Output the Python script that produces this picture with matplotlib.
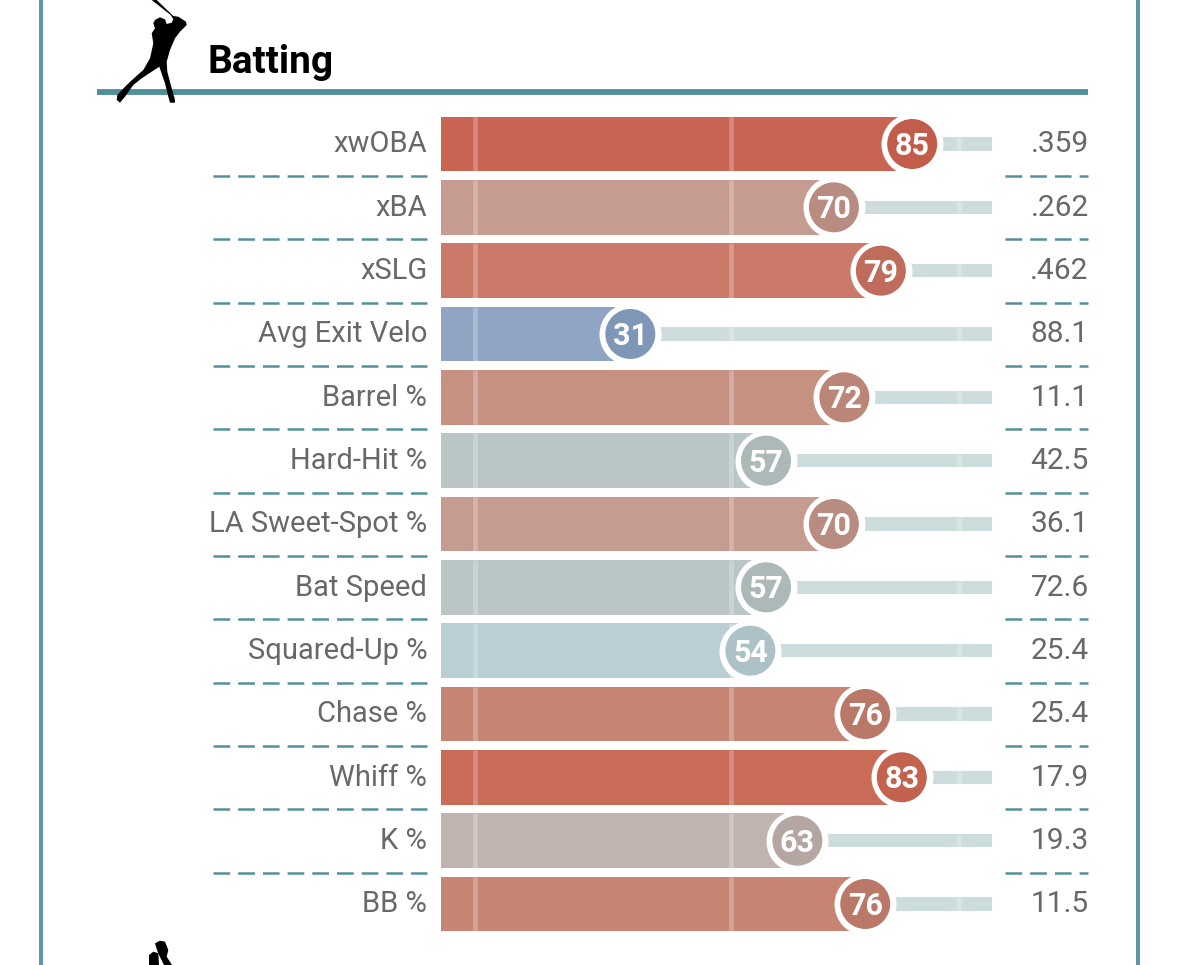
""" Horizontal percentile bars for the batting section of a player card. """

import matplotlib
matplotlib.use('Agg')
import matplotlib.pyplot as plt
from matplotlib.patches import Polygon

plt.rcParams['font.family'] = ['Roboto', 'DejaVu Sans']

WIDTH, HEIGHT = 1179, 965

metrics = ['xwOBA', 'xBA', 'xSLG', 'Avg Exit Velo', 'Barrel %', 'Hard-Hit %',
           'LA Sweet-Spot %', 'Bat Speed', 'Squared-Up %', 'Chase %', 'Whiff %',
           'K %', 'BB %']
percentiles = [85, 70, 79, 31, 72, 57, 70, 57, 54, 76, 83, 63, 76]
stat_values = ['.359', '.262', '.462', '88.1', '11.1', '42.5', '36.1', '72.6',
               '25.4', '25.4', '17.9', '19.3', '11.5']
bar_colors = ['#c96352', '#c69c90', '#cb7968', '#90a5c4', '#c79182', '#bac6c6',
              '#c69c90', '#bac6c6', '#bacfd3', '#c78473', '#c96b57', '#c1b3ae',
              '#c78473']
dot_colors = ['#c25c4b', '#b98c82', '#c06c5c', '#7f97b7', '#bb8577', '#adb9b9',
              '#b98c82', '#adb9b9', '#acc2c6', '#ba7868', '#c2624f', '#b5a6a1',
              '#ba7868']
guide_ticks = [1.15, 50.2, 94]

BAR_START = -5.27
TRACK_END = 100.3
TEAL = '#53929a'
FRAME = '#5f97a5'
GREY = '#686868'

# Batter silhouette and the top of the next section's icon, in pixels
BATTER = [(151.7, 0), (156.7, 0), (173.3, 16), (178.3, 16.7), (186, 21.7), (186.7, 25),
          (180, 31.7), (175, 38.3), (170, 50), (166.7, 61.7), (167.3, 71.7),
          (171.7, 88.3), (175, 100), (175, 102.7), (170, 102.7), (168.3, 96.7),
          (165, 83.3), (159.3, 66.7), (151.7, 71.7), (141.7, 78.3), (133.3, 85),
          (125, 96.7), (120, 102.7), (116.7, 100), (117.3, 95), (126.7, 85),
          (135, 77.3), (143.3, 70), (150, 58.3), (153.3, 43.3), (151.7, 33.3),
          (155, 28.3), (153.3, 23.3), (155, 20), (160, 17.3), (165, 19.3),
          (166.7, 24), (171.7, 22.7), (173.3, 19.3), (170.7, 15)]
NEXT_ICON_A = [(155, 943.3), (160, 940.7), (165, 941.7), (168.3, 950), (166.7, 956.7),
               (172, 965), (164, 965), (158, 953)]
NEXT_ICON_B = [(149, 965), (149, 955), (153.3, 951.7), (158.3, 953.3), (159, 965)]


def draw_decor(deco):
    """ Frame, section header, icons and the dashed row separators. """
    for x in (41, 1138):
        deco.plot([x, x], [0, HEIGHT], color=FRAME, lw=2.9, solid_capstyle='butt')

    deco.plot([97, 1088], [92, 92], color='#4f9098', lw=4.2, solid_capstyle='butt')
    deco.add_patch(Polygon(BATTER, closed=True, color='black', lw=0, zorder=5))
    deco.add_patch(Polygon(NEXT_ICON_A, closed=True, color='black', lw=0, zorder=5))
    deco.add_patch(Polygon(NEXT_ICON_B, closed=True, color='black', lw=0, zorder=5))
    deco.text(208, 73, 'Batting', fontsize=28, fontweight='bold', color='black',
              ha='left', va='baseline')

    for i in range(len(metrics) - 1):
        y = 176 + 63.33 * i
        for x0, x1 in ((212.5, 427), (1005, 1088)):
            deco.plot([x0, x1], [y, y], color=TEAL, lw=1.8,
                      dashes=(6.68, 3.2), dash_capstyle='butt')


def draw_rows(ax):
    """ Bars, tracks, guide ticks, value dots and row labels. """
    rows = range(len(metrics))

    ax.barh(rows, [TRACK_END - BAR_START] * len(metrics), left=BAR_START, height=0.21,
            color='#cddcdd', lw=0, zorder=1)
    ax.barh(rows, [p - BAR_START for p in percentiles], left=BAR_START, height=0.86,
            color=bar_colors, lw=0, zorder=2)

    # Guide ticks run the full bar height inside a bar, track height outside it
    for row, pct in zip(rows, percentiles):
        for tick in guide_ticks:
            half = 0.43 if tick < pct else 0.105
            ax.vlines(tick, row - half, row + half, color='white', alpha=0.25,
                      lw=3.4, zorder=3)

    ax.scatter(percentiles, rows, s=1993, color='white', lw=0, zorder=4)
    ax.scatter(percentiles, rows, s=1296, color=dot_colors, lw=0, zorder=5)

    for row, pct, name, value in zip(rows, percentiles, metrics, stat_values):
        ax.text(pct, row + 0.174, str(pct), fontsize=22, fontweight='bold', color='white',
                ha='center', va='baseline', zorder=6)
        ax.text(BAR_START - 2.65, row + 0.134, name, fontsize=21, color=GREY,
                ha='right', va='baseline')
        ax.text(118.8, row + 0.134, value, fontsize=21.5, color=GREY,
                ha='right', va='baseline')


def main():
    """ Builds the figure and writes it to out.png. """
    fig = plt.figure(figsize=(WIDTH / 100, HEIGHT / 100), dpi=100, facecolor='white')

    deco = fig.add_axes([0, 0, 1, 1])
    deco.set_xlim(0, WIDTH)
    deco.set_ylim(HEIGHT, 0)
    deco.axis('off')
    draw_decor(deco)

    # Row axis: x is the percentile, y the row number
    ax = fig.add_axes([0, 0, 1, 1])
    ax.set_xlim(-468.5 / 5.22, (WIDTH - 468.5) / 5.22)
    ax.set_ylim((HEIGHT - 144) / 63.33, -144 / 63.33)
    ax.axis('off')
    ax.patch.set_alpha(0)
    draw_rows(ax)

    fig.savefig('out.png', dpi=100)


if __name__ == '__main__':
    main()
